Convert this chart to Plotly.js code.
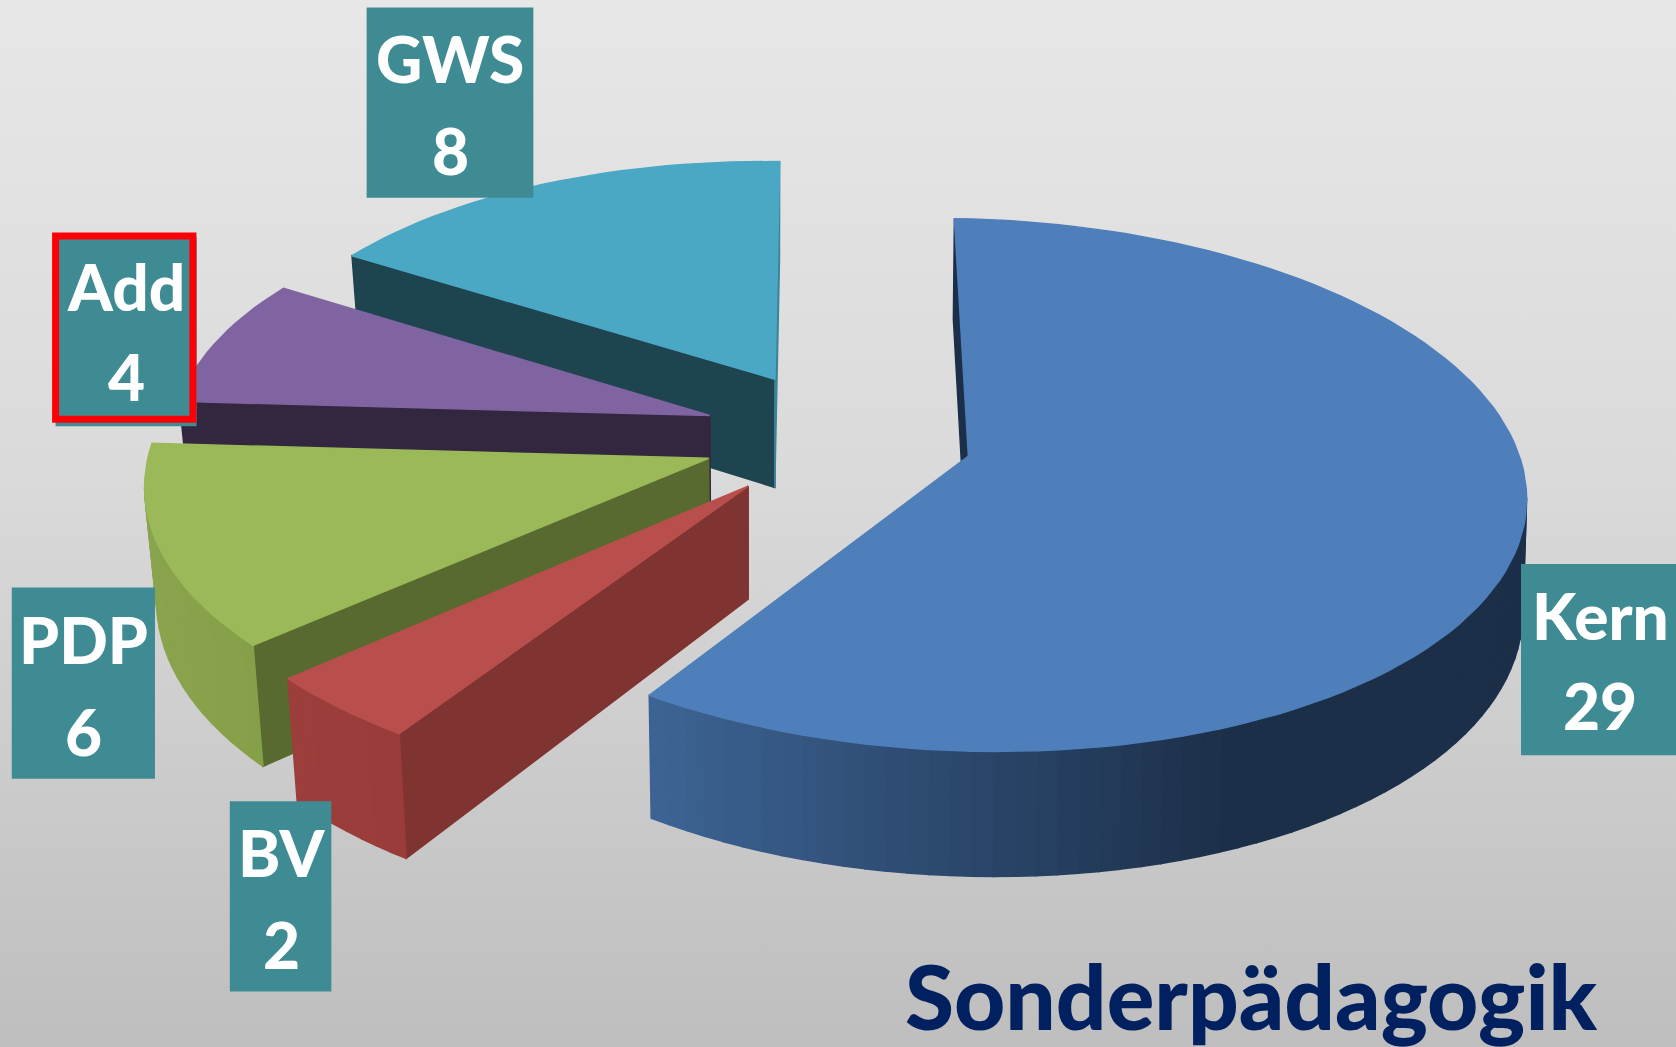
<!DOCTYPE html>
<html>
<head>
<meta charset="utf-8">
<script src="https://cdn.plot.ly/plotly-3.0.1.min.js"></script>
<style>
html,body{margin:0;padding:0;width:1676px;height:1047px;overflow:hidden;background:linear-gradient(to bottom,#e7e7e7 0%,#dadada 45%,#bebebe 100%);}
#chart{width:1676px;height:1047px;}
</style>
</head>
<body>
<div id="chart"></div>
<script>
// ---- data ----
var categories = ['Kern', 'BV', 'PDP', 'Add', 'GWS'];
var values = [29, 2, 6, 4, 8];
var chartTitle = 'Sonderpädagogik';

// ---- style ----
var topColors = ['#4f7fba', '#b94f4c', '#9bb958', '#8064a2', '#4aa8c4'];
var wallColors = ['#1c2f49', '#7f3432', '#586a2f', '#33263f', '#1e4450'];
var endWallColors = ['#1c2f49', '#7f3432', '#586a2f', '#33263f', '#3d8398'];
var arcLeft = ['#3d6494', '#9c3e3b', '#8aa44d', '#6b5488', '#3d8fa6'];
var arcRight = ['#1c2f49', '#9a3c39', '#85a049', '#6b5488', '#3d8fa6'];
var tips = [[906, 427], [700, 455], [663, 429], [664, 389], [725, 355]];
var radii = [1, 1.005, 1, 0.97, 0.97];
var drawOrder = [4, 3, 2, 1, 0];
var boxes = [[1423, 1568, 528, 707], [215, 310, 750, 928], [11, 145, 550, 729], [52, 184, 222, 399], [343, 499, 7, 185]];
var nameY = [576, 798, 599, 268, 55], valueY = [660, 884, 685, 352, 141];
var textX = [1497, 263, 78, 118, 421];

// ---- perspective of the disc ----
var d = 9.22, fx = 4787, gy = 2269, h = 962, x0 = 906, y0 = 427, startDeg = -1.6, tilt = 0.025;
function proj(X, Y, z) {
  var s = d + Y;
  var sx = x0 + fx * X / s;
  var sy = y0 - gy * Y / s + tilt * (sx - x0) + z * h / s;
  return [sx + z * (700 - sx) * (sx < 700 ? 0.02 : 0.005), sy];
}
function unproj(px, py) {
  var v = y0 - (py - tilt * (px - x0));
  var Y = v * d / (gy - v);
  return [(px - x0) * (d + Y) / fx, Y];
}
function hex(c) { return [1, 3, 5].map(function (i) { return parseInt(c.substr(i, 2), 16); }); }
function mix(a, b, t) {
  t = Math.max(0, Math.min(1, t));
  var A = hex(a), B = hex(b);
  return 'rgb(' + A.map(function (v, i) { return Math.round(v + (B[i] - v) * t); }).join(',') + ')';
}
function poly(pts, color) {
  var xs = pts.map(function (p) { return p[0]; });
  var ys = pts.map(function (p) { return p[1]; });
  xs.push(xs[0]); ys.push(ys[0]);
  return { type: 'scatter', mode: 'lines', x: xs, y: ys, fill: 'toself', fillcolor: color,
    line: { color: color, width: 1.5 }, hoverinfo: 'skip', showlegend: false };
}

var total = values.reduce(function (a, b) { return a + b; }, 0);
var starts = [], acc = startDeg;
values.forEach(function (v) { starts.push(acc); acc += v / total * 360; });

var traces = [];
drawOrder.forEach(function (i) {
  var a0 = starts[i], a1 = starts[i] + values[i] / total * 360;
  var tw = unproj(tips[i][0], tips[i][1]);
  var n = Math.max(4, Math.ceil((a1 - a0) / 2)), rim = [];
  for (var k = 0; k <= n; k++) {
    var t = (a0 + (a1 - a0) * k / n) * Math.PI / 180;
    rim.push([tw[0] + radii[i] * Math.sin(t), tw[1] + radii[i] * Math.cos(t)]);
  }
  function wall(a, b, color) {
    var pa = proj(a[0], a[1], 0), pb = proj(b[0], b[1], 0);
    if (pb[0] >= pa[0]) return;            // only edges facing the viewer
    traces.push(poly([pa, pb, proj(b[0], b[1], 1), proj(a[0], a[1], 1)], color));
  }
  wall(tw, rim[0], wallColors[i]);
  wall(rim[n], tw, endWallColors[i]);
  var xs = rim.map(function (r) { return proj(r[0], r[1], 0)[0]; });
  var xmin = Math.min.apply(null, xs), xmax = Math.max.apply(null, xs);
  for (var m = 0; m < n; m++) {
    var tt = i === 0 ? ((xs[m] + xs[m + 1]) / 2 - xmin) / (1150 - xmin)
                     : ((xs[m] + xs[m + 1]) / 2 - xmin) / (xmax - xmin);
    wall(rim[m], rim[m + 1], mix(arcLeft[i], arcRight[i], tt));
  }
  traces.push(poly([tw].concat(rim).map(function (p) { return proj(p[0], p[1], 0); }), topColors[i]));
});

var shapes = categories.map(function (c, i) {
  return { type: 'rect', xref: 'x', yref: 'y', x0: boxes[i][0], x1: boxes[i][1], y0: boxes[i][2], y1: boxes[i][3],
    fillcolor: '#3f8b94', line: { width: 0 }, layer: 'above' };
});
shapes.push({ type: 'rect', xref: 'x', yref: 'y', x0: 52, x1: 180.5, y0: 221, y1: 392.5,
  fillcolor: 'rgba(0,0,0,0)', line: { color: '#fb0007', width: 7 }, layer: 'above' });

var labelFont = { family: 'Lato, "Open Sans", sans-serif', size: 64, color: '#ffffff', weight: 900 };
var annotations = [];
categories.forEach(function (c, i) {
  annotations.push({ xref: 'x', yref: 'y', x: textX[i], y: nameY[i], text: c, showarrow: false,
    xanchor: 'center', yanchor: 'middle', font: labelFont });
  annotations.push({ xref: 'x', yref: 'y', x: textX[i], y: valueY[i], text: String(values[i]), showarrow: false,
    xanchor: 'center', yanchor: 'middle', font: labelFont });
});
annotations.push({ xref: 'x', yref: 'y', x: 1171, y: 932, text: chartTitle, showarrow: false,
  xanchor: 'center', yanchor: 'middle', font: { family: 'Lato, "Open Sans", sans-serif', size: 89, color: '#00205f', weight: 900 } });

var hiddenAxis = { visible: false, showgrid: false, zeroline: false, fixedrange: true };
var layout = {
  width: 1676, height: 1047,
  margin: { l: 0, r: 0, t: 0, b: 0 },
  paper_bgcolor: 'rgba(0,0,0,0)', plot_bgcolor: 'rgba(0,0,0,0)',
  showlegend: false,
  xaxis: Object.assign({ range: [0, 1568] }, hiddenAxis),
  yaxis: Object.assign({ range: [980, 0] }, hiddenAxis),
  shapes: shapes, annotations: annotations
};
Plotly.newPlot('chart', traces, layout, { displayModeBar: false, staticPlot: true });
</script>
</body>
</html>
